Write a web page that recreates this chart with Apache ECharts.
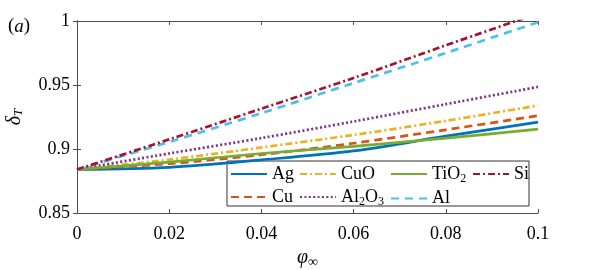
<!DOCTYPE html>
<html><head><meta charset="utf-8">
<script src="https://cdn.jsdelivr.net/npm/echarts@6/dist/echarts.min.js"></script>
<style>html,body{margin:0;padding:0;background:#fff}#c{width:595px;height:270px}</style>
</head><body><div id="c"></div>
<script>
const phi = [0, 0.02, 0.04, 0.06, 0.08, 0.1];
const names = ['Ag','Cu','CuO','Al2O3','TiO2','Al','Si'];
const Ag    = [0.884, 0.8857, 0.8915, 0.8985, 0.9100, 0.9210];
const Cu    = [0.884, 0.8885, 0.8955, 0.9045, 0.9150, 0.9260];
const CuO   = [0.884, 0.8917, 0.9012, 0.9110, 0.9220, 0.9340];
const Al2O3 = [0.884, 0.8965, 0.9085, 0.9215, 0.9350, 0.9485];
const TiO2  = [0.884, 0.8898, 0.8965, 0.9020, 0.9085, 0.9155];
const Al    = [0.884, 0.9055, 0.9280, 0.9515, 0.9750, 0.9990];
const Si    = [0.884, 0.9075, 0.9315, 0.9555, 0.9810, 1.0060];
const xTicks = ['0','0.02','0.04','0.06','0.08','0.1'];
const yTicks = ['0.85','0.9','0.95','1'];

const values = [Ag, Cu, CuO, Al2O3, TiO2, Al, Si];
const colors = ['#0072BD','#D95319','#EDB120','#7E2F8E','#77AC30','#4DBEEE','#A2142F'];
const dashes = ['solid',[8,5],[7,3,2,3],[2,2.4],'solid',[8,6],[7,3,2,3]];
const F = "Liberation Serif";
const axisCol = '#4d4d4d';

const series = names.map((n,i)=>({
  name: n, type: 'line', smooth: 0.3, symbol: 'none', xAxisIndex: 0, yAxisIndex: 0,
  data: phi.map((x,j)=>[x, values[i][j]]),
  lineStyle: {color: colors[i], width: 2.7, type: dashes[i], cap: 'butt'},
  itemStyle: {color: colors[i]}
}));

const rich = {
  n: {fontFamily: F, fontSize: 18, color: '#000'},
  s: {fontFamily: F, fontSize: 12, color: '#000', padding: [9,0,0,0]}
};
function fmtName(n){
  if (n==='Al2O3') return '{n|Al}{s|2}{n|O}{s|3}';
  if (n==='TiO2') return '{n|TiO}{s|2}';
  return '{n|'+n+'}';
}
function mkLegend(data, left){
  return {
    data: data, orient: 'vertical', left: left, top: 165, itemWidth: 36, itemHeight: 14,
    itemGap: 5, itemTextGap: 3, padding: 0, textStyle: {fontFamily: F, fontSize: 18, color: '#000', rich: rich},
    itemStyle: {opacity: 0, borderWidth: 0},
    formatter: fmtName, selectedMode: false
  };
}
const xAx = (pos, show) => ({
  type: 'value', min: 0, max: 0.1, interval: 0.02, position: pos,
  axisLine: {show: true, lineStyle: {color: axisCol, width: 1}},
  axisTick: {show: true, inside: true, length: 4, lineStyle: {color: axisCol}},
  splitLine: {show: false},
  axisLabel: {show: show, margin: 12, color: '#000', fontFamily: F, fontSize: 18,
    formatter: v => xTicks[Math.round(v/0.02)]}
});
const yAx = (pos, show) => ({
  type: 'value', min: 0.85, max: 1, interval: 0.05, position: pos,
  axisLine: {show: true, lineStyle: {color: axisCol, width: 1}},
  axisTick: {show: true, inside: true, length: 4, lineStyle: {color: axisCol}},
  splitLine: {show: false},
  axisLabel: {show: show, margin: 7, color: '#000', fontFamily: F, fontSize: 18,
    formatter: v => yTicks[Math.round((v-0.85)/0.05)]}
});
const xMain = xAx('bottom', true);
xMain.name = '{i|φ}{s|∞}';
xMain.nameLocation = 'middle'; xMain.nameGap = 34;
xMain.nameTextStyle = {rich: {i: {fontFamily: F, fontSize: 20, fontStyle: 'italic', color: '#000'},
  s: {fontFamily: F, fontSize: 14, color: '#000', padding: [8,0,0,0]}}};
const yMain = yAx('left', true);
yMain.name = '{i|δ}{s|T}';
yMain.nameLocation = 'middle'; yMain.nameGap = 52; yMain.nameRotate = 90;
yMain.nameTextStyle = {rich: {i: {fontFamily: F, fontSize: 20, fontStyle: 'italic', color: '#000'},
  s: {fontFamily: F, fontSize: 13, fontStyle: 'italic', color: '#000', padding: [8,0,0,0]}}};

const chart = echarts.init(document.getElementById('c'), null, {renderer: 'canvas'});
chart.setOption({
  animation: false,
  backgroundColor: '#fff',
  textStyle: {fontFamily: F},
  grid: {left: 77, right: 57, top: 21, bottom: 57, containLabel: false, outerBoundsMode: 'none'},
  xAxis: [xMain, xAx('top', false)],
  yAxis: [yMain, yAx('right', false)],
  title: {text: '{p|(}{a|a}{p|)}', left: 3, top: 12, textStyle: {fontWeight: 'normal', rich: {
    p: {fontFamily: F, fontSize: 19, fontWeight: 'normal', color: '#000'},
    a: {fontFamily: F, fontSize: 19, fontWeight: 'normal', fontStyle: 'italic', color: '#000'}}}},
  legend: [
    mkLegend(['Ag','Cu'], 230),
    mkLegend(['CuO','Al2O3'], 299),
    mkLegend(['TiO2','Al'], 390),
    mkLegend(['Si'], 472)
  ],
  graphic: [{type: 'rect', z: 3, shape: {x: 227, y: 161, width: 302, height: 45},
    style: {fill: '#fff', stroke: '#333', lineWidth: 1}}],
  series: series
});
</script></body></html>
